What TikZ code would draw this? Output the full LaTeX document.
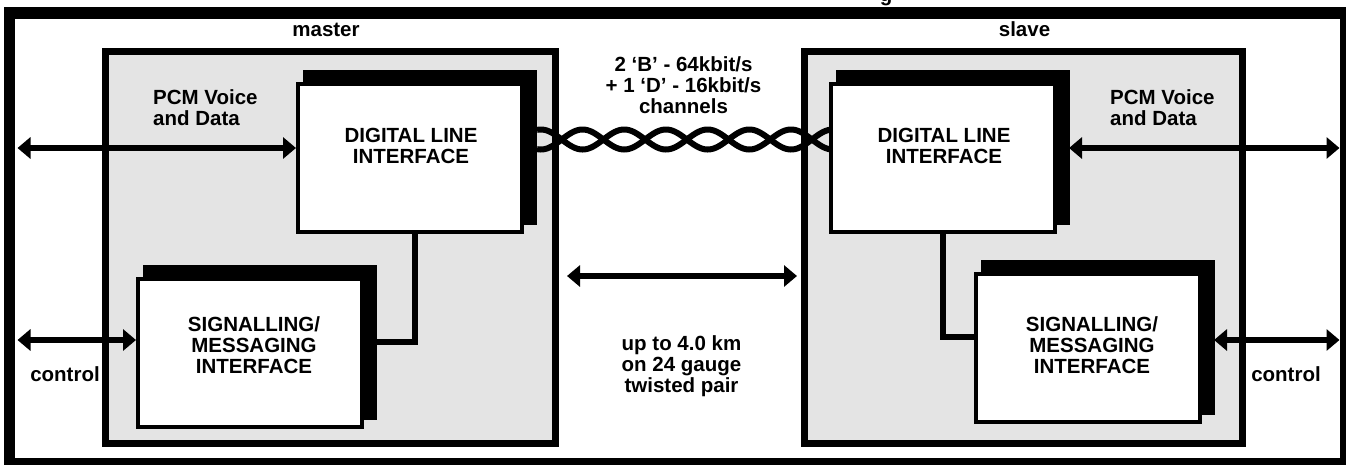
\documentclass[tikz,border=0pt]{standalone}
\usepackage{fontspec}
\setmainfont{Liberation Sans}
\usetikzlibrary{arrows.meta,shadows}
\definecolor{boxgray}{RGB}{228,228,228}
\begin{document}
\begin{tikzpicture}[x=1pt,y=-1pt,
  lbl/.style={font=\bfseries\fontsize{20.5}{21}\selectfont, inner sep=0pt, align=center},
  gbox/.style={draw=black, line width=7pt, fill=boxgray, inner sep=0pt},
  wbox/.style={draw=black, fill=white, line width=4pt, inner sep=0pt,
    minimum width=224pt, minimum height=148pt,
    general shadow={fill=black, shadow xshift=9.5pt, shadow yshift=10pt,
      shadow scale=1.047}},
  conn/.style={line width=5.5pt},
  pair/.style={line width=6pt},
  dbl/.style={line width=5.5pt,
    {Triangle[length=13pt,width=21pt]}-{Triangle[length=13pt,width=21pt]}}
]
\useasboundingbox (0,0) rectangle (1346,464);
% partial title glyph at the top edge
\node[lbl, anchor=base] (ttl) at (886,1.5) {g};
% outer frame
\draw[line width=11.5pt] (9.5,13) rectangle (1345.75,463.75);
% master / slave enclosures
\node[gbox, minimum width=449.5pt, minimum height=392pt] (mbox) at (330.25,247.5) {};
\node[gbox, minimum width=438pt, minimum height=392pt] (sbox) at (1023.5,247.5) {};
% function blocks
\node[wbox] (dlim) at (410,158) {};
\node[wbox] (dlis) at (943,158) {};
\node[wbox] (smim) at (250,353) {};
\node[wbox] (smis) at (1088,348) {};
% internal connectors
\coordinate (jm) at (415,342);
\coordinate (js) at (943,337);
\draw[conn] (smim.east |- jm) -| (dlim.south -| jm);
\draw[conn] (dlis.south -| js) |- (smis.west |- js);
% twisted pair between the two line interfaces
\draw[pair] plot[domain=-0.592:6.434, samples=240] ({561.7+41.7*\x}, {139.5-10*sin(180*\x)});
\draw[pair] plot[domain=-0.592:6.434, samples=240] ({561.7+41.7*\x}, {139.5+10*sin(180*\x)});
% arrows
\coordinate (pcmL) at (17.5,148);
\coordinate (pcmR) at (1339.5,148);
\coordinate (dlisR) at (1069,148);
\coordinate (ctlL) at (17.5,340);
\coordinate (ctlR) at (1339.5,340);
\coordinate (smisR) at (1214,340);
\coordinate (spanL) at (567,276);
\coordinate (spanR) at (797,276);
\draw[dbl] (pcmL) -- (dlim.west |- pcmL);
\draw[dbl] (dlisR) -- (pcmR);
\draw[dbl] (ctlL) -- (smim.west |- ctlL);
\draw[dbl] (smisR) -- (ctlR);
\draw[dbl] (spanL) -- (spanR);
% texts
\node[lbl, anchor=base] (tmaster) at (326,36.5) {master};
\node[lbl, anchor=base] (tslave) at (1024.5,36.5) {slave};
\node[lbl] (tdlim) at (411,146) {DIGITAL LINE\\INTERFACE};
\node[lbl] (tdlis) at (944,146) {DIGITAL LINE\\INTERFACE};
\node[lbl] (tsmim) at (254,345) {SIGNALLING/\\MESSAGING\\INTERFACE};
\node[lbl] (tsmis) at (1092,345.5) {SIGNALLING/\\MESSAGING\\INTERFACE};
\node[lbl, align=left, anchor=west] (tpcmm) at (153,107.2) {PCM Voice\\and Data};
\node[lbl, align=left, anchor=west] (tpcms) at (1110,107.2) {PCM Voice\\and Data};
\node[lbl, anchor=base] (tctlm) at (65,381.7) {control};
\node[lbl, anchor=base] (tctls) at (1286,381.7) {control};
\node[lbl] (trate) at (683.5,85.6) {2 ‘B’ - 64kbit/s\\+ 1 ‘D’ - 16kbit/s\\channels};
\node[lbl] (tspan) at (681.5,366.4) {up to 4.0 km\\on 24 gauge\\twisted pair};
\end{tikzpicture}
\end{document}
